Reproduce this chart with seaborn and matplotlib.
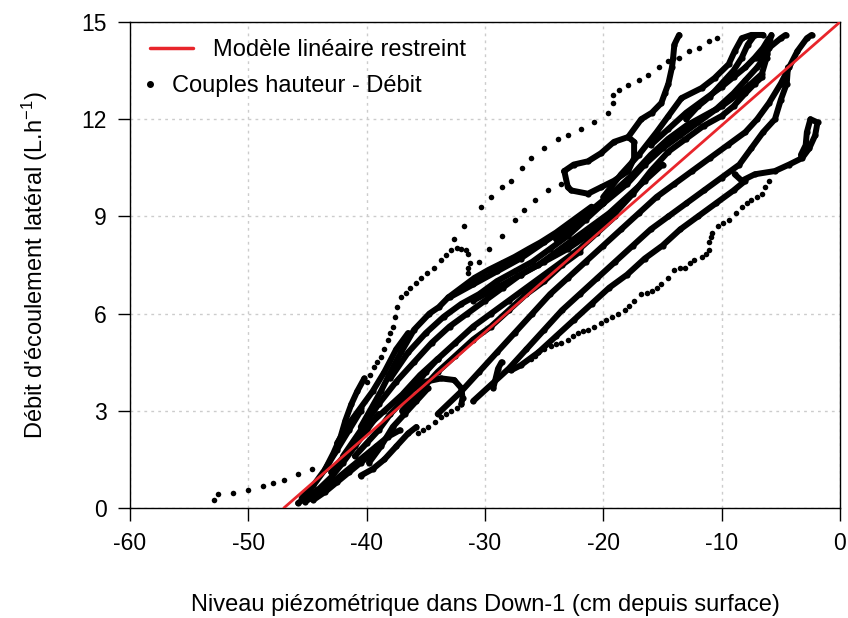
import matplotlib
matplotlib.use("Agg")
from matplotlib import pyplot as plt
from matplotlib.lines import Line2D
import seaborn as sns
import pandas as pd

# red fitted model (restricted linear)
model_x = [-47.0, 0.0]
model_y = [0.0, 15.0]

# sparse dotted traces (level cm, flow L/h)
tail_x = [-52.9, -52.6, -51.3, -50.0, -48.8, -47.9, -47.0, -45.8, -44.6, -43.2]
tail_y = [0.25, 0.42, 0.46, 0.55, 0.68, 0.78, 0.86, 1.05, 1.20, 1.42]

outer_x = [-32.6, -31.8, -30.3, -29.5, -28.6, -27.8, -26.9, -26.1, -25.0, -23.8, -23.0, -21.9,
           -20.8, -19.6, -19.2, -19.2, -18.7, -17.9, -17.0, -16.2, -15.3, -14.5, -13.6, -12.8,
           -11.9, -11.1, -10.4]
outer_y = [8.3, 8.7, 9.3, 9.6, 9.9, 10.1, 10.5, 10.8, 11.1, 11.4, 11.5, 11.7,
           11.9, 12.2, 12.5, 12.75, 12.9, 13.05, 13.2, 13.35, 13.6, 13.8, 13.9, 14.1,
           14.2, 14.4, 14.5]

hook_x = [-40.0, -39.7, -39.4, -39.1, -38.8, -38.5, -38.2, -38.0, -37.8, -37.6, -37.4, -37.1,
          -36.7, -36.3, -35.8, -35.4, -34.9, -34.3, -33.7, -33.3, -32.9, -32.4, -32.0, -31.6,
          -31.4, -31.3, -31.4, -31.4]
hook_y = [3.9, 4.1, 4.35, 4.5, 4.66, 4.9, 5.19, 5.4, 5.6, 5.9, 6.2, 6.5,
          6.65, 6.8, 6.95, 7.1, 7.25, 7.4, 7.65, 7.8, 7.96, 8.02, 8.0, 7.95,
          7.85, 7.56, 7.4, 7.25]

step_x = [-35.7, -35.2, -34.8, -34.2, -33.7, -33.3, -32.9, -32.4, -32.0]
step_y = [2.3, 2.4, 2.5, 2.65, 2.8, 2.9, 3.0, 3.1, 3.2]

mid_x = [-30.5, -29.7, -28.6, -27.5, -26.7, -25.8, -24.7, -23.6]
mid_y = [7.6, 8.0, 8.4, 8.9, 9.2, 9.5, 9.8, 10.0]

low_x = [-26.1, -25.8, -25.5, -25.0, -24.4, -24.0, -23.6, -23.0, -22.6, -22.1, -21.7, -21.3,
         -20.8, -20.2, -19.8, -19.3, -18.8, -18.2, -17.8, -17.4, -16.8, -16.3, -15.9, -15.5,
         -15.1, -14.5, -14.0, -13.5, -13.1, -12.7, -12.3, -11.7, -11.3, -11.1, -11.1, -10.9,
         -10.8, -10.3, -9.9, -9.4, -8.8, -8.3, -7.9, -7.5, -7.0, -6.6, -6.3, -6.0]
low_y = [4.6, 4.7, 4.8, 4.9, 5.0, 5.05, 5.1, 5.2, 5.3, 5.4, 5.45, 5.5,
         5.6, 5.7, 5.8, 5.9, 6.0, 6.1, 6.25, 6.4, 6.6, 6.65, 6.7, 6.8,
         6.9, 7.1, 7.35, 7.4, 7.4, 7.55, 7.65, 7.75, 7.85, 7.95, 8.2, 8.35,
         8.5, 8.7, 8.8, 8.9, 9.1, 9.3, 9.4, 9.5, 9.6, 9.7, 9.9, 10.1]

# dense traces
base1_x = [-45.8, -45.0, -44.0, -43.0, -42.0, -41.0, -40.0, -39.0]
base1_y = [0.15, 0.35, 0.6, 0.95, 1.4, 1.9, 2.4, 2.9]
base2_x = [-45.2, -44.2, -43.2, -42.2, -41.2, -40.2, -39.2, -38.2, -37.2]
base2_y = [0.2, 0.4, 0.7, 1.0, 1.3, 1.6, 1.9, 2.2, 2.4]
base3_x = [-43.5, -42.8, -42.2, -41.8, -41.3, -40.8, -40.2]
base3_y = [1.2, 1.7, 2.2, 2.7, 3.2, 3.6, 4.0]
base4_x = [-45.5, -44.5, -43.5, -42.5, -41.5, -40.5]
base4_y = [0.3, 0.7, 1.2, 1.8, 2.4, 3.0]
base5_x = [-44.5, -43.5, -42.5, -41.5, -40.5, -39.5]
base5_y = [0.25, 0.5, 0.8, 1.1, 1.4, 1.7]
mass1_x = [-42.5, -41.5, -40.5, -39.5, -38.5, -37.5, -36.5]
mass1_y = [2.0, 2.6, 3.1, 3.6, 4.2, 4.9, 5.4]
mass2_x = [-41.0, -40.0, -39.0, -38.0, -37.0, -36.0, -35.0, -34.0]
mass2_y = [1.6, 2.0, 2.4, 2.9, 3.3, 3.7, 4.2, 4.6]
fork1_x = [-40.5, -39.5, -38.5, -37.5, -36.5, -35.8]
fork1_y = [1.0, 1.2, 1.5, 1.9, 2.3, 2.5]
fork2_x = [-39.8, -38.8, -37.8, -36.8, -35.8, -34.8]
fork2_y = [1.4, 1.9, 2.5, 2.9, 3.3, 3.7]
bend_x = [-36.5, -35.0, -33.7, -32.6, -32.0, -31.9, -32.0]
bend_y = [3.6, 3.9, 4.0, 3.95, 3.7, 3.4, 3.2]
streak_x = [-29.3, -29.1, -28.9, -28.6]
streak_y = [3.7, 4.0, 4.3, 4.5]

edge_x = [-40.5, -38.8, -37.7, -37.1, -36.0, -34.7, -33.9, -33.1, -32.0, -30.9, -29.7, -28.6,
          -27.5, -26.3, -25.3, -24.0, -22.5, -21.0]
edge_y = [2.5, 3.6, 4.4, 4.8, 5.5, 6.0, 6.2, 6.5, 6.8, 7.1, 7.35, 7.55,
          7.75, 8.0, 8.2, 8.5, 8.9, 9.3]
mid1_x = [-38.0, -36.5, -35.0, -33.5, -32.0, -30.5, -29.0, -27.5, -26.0, -24.5, -23.0, -21.5, -20.0]
mid1_y = [4.0, 4.8, 5.4, 5.9, 6.3, 6.6, 7.0, 7.3, 7.6, 8.0, 8.4, 8.9, 9.4]
mid2_x = [-37.0, -35.5, -34.0, -32.5, -31.0, -29.5, -28.0, -26.5, -25.0, -23.5, -22.0]
mid2_y = [3.0, 3.6, 4.2, 4.7, 5.2, 5.6, 6.1, 6.6, 7.0, 7.5, 7.9]
up1_x = [-42.0, -40.5, -39.0, -37.5, -36.0, -34.5, -33.0, -31.5, -30.0, -28.5, -27.0, -25.5,
         -24.0, -22.5, -21.0, -19.5, -18.0, -16.5, -15.0]
up1_y = [1.6, 2.4, 3.2, 3.9, 4.5, 5.1, 5.6, 6.0, 6.4, 6.8, 7.2, 7.5,
         7.9, 8.3, 8.7, 9.1, 9.6, 10.1, 10.6]
up2_x = [-43.0, -41.5, -40.0, -38.5, -37.0, -35.5, -34.0, -32.5, -31.0, -29.5, -28.0, -26.5,
         -25.0, -23.5, -22.0, -20.5, -19.0]
up2_y = [1.1, 1.8, 2.5, 3.0, 3.5, 4.1, 4.6, 5.1, 5.6, 6.0, 6.4, 6.8,
         7.2, 7.6, 8.0, 8.5, 9.0]

top1_x = [-33.0, -31.0, -29.0, -27.0, -25.0, -23.0, -21.0, -19.0, -17.5, -16.0, -14.5, -13.0,
          -11.5, -10.0, -8.5, -7.5, -6.6, -6.2, -6.0, -5.8]
top1_y = [6.5, 6.9, 7.3, 7.7, 8.2, 8.7, 9.2, 9.8, 10.3, 10.9, 11.4, 11.8,
          12.1, 12.4, 12.8, 13.1, 13.4, 13.9, 14.3, 14.6]
top2_x = [-31.0, -29.0, -27.0, -25.0, -23.0, -21.0, -19.0, -17.5, -16.0, -14.5, -13.0, -11.5,
          -10.0, -9.0, -8.0, -7.2, -6.6]
top2_y = [6.4, 6.8, 7.2, 7.6, 8.0, 8.5, 9.1, 9.7, 10.4, 11.0, 11.4, 11.8,
          12.1, 12.4, 12.8, 13.1, 13.3]
top3_x = [-20.0, -18.5, -17.0, -15.5, -14.5, -13.4, -11.7, -10.6, -9.4, -8.9, -8.3, -7.5, -6.5]
top3_y = [9.6, 10.3, 10.9, 11.6, 12.1, 12.65, 12.96, 13.27, 13.7, 14.1, 14.5, 14.6, 14.6]
top4_x = [-7.0, -6.0, -5.0, -4.6]
top4_y = [13.9, 14.2, 14.5, 14.6]
top5_x = [-16.0, -14.5, -13.0, -11.5, -10.0, -9.0, -8.0, -7.2, -6.5, -6.0]
top5_y = [11.2, 11.7, 12.2, 12.6, 13.0, 13.3, 13.6, 13.9, 14.2, 14.5]
top6_x = [-24.0, -22.0, -20.0, -18.0, -16.5, -15.0, -13.5, -12.0, -10.5, -9.0, -8.0, -7.0, -6.2]
top6_y = [8.3, 8.9, 9.4, 10.0, 10.6, 11.1, 11.5, 11.9, 12.3, 12.8, 13.2, 13.6, 14.0]
top7_x = [-13.0, -12.0, -11.0, -10.0, -9.0, -8.3, -7.8, -7.2]
top7_y = [12.0, 12.4, 12.7, 13.1, 13.5, 13.9, 14.3, 14.6]

steep_x = [-23.3, -22.5, -21.3, -20.2, -19.1, -17.9, -16.8, -15.9, -15.1, -14.8, -14.5, -14.2,
           -14.1, -14.0, -13.6]
steep_y = [10.4, 10.6, 10.7, 10.95, 11.3, 11.45, 12.0, 12.2, 12.5, 12.8, 13.1, 13.6,
           13.9, 14.3, 14.6]
loop_x = [-23.3, -23.0, -22.7, -21.3, -20.2, -19.1, -17.9, -17.4, -17.4, -17.9]
loop_y = [10.4, 9.9, 9.8, 9.7, 9.9, 10.1, 10.4, 10.8, 11.3, 11.45]

right1_x = [-34.0, -32.0, -30.5, -29.0, -27.5, -26.0, -24.5, -23.0, -21.5, -20.0,
            -18.5, -17.0, -15.5, -14.0, -12.5, -11.0, -9.5, -8.0, -7.0, -6.0, -5.0, -4.3,
            -3.6, -2.8, -2.4]
right1_y = [2.9, 3.6, 4.2, 4.8, 5.4, 6.0, 6.6, 7.1, 7.6, 8.1,
            8.6, 9.1, 9.6, 10.0, 10.4, 10.8, 11.2, 11.6, 12.0, 12.5, 13.1, 13.6,
            14.1, 14.5, 14.6]
right2_x = [-31.0, -29.5, -28.0, -26.5, -25.0, -23.5, -22.0, -20.5, -19.0, -17.5,
            -16.0, -14.5, -13.0, -11.5, -10.0, -8.5, -7.5, -6.5, -5.5, -5.0, -4.5, -4.4]
right2_y = [3.3, 3.8, 4.3, 4.9, 5.5, 6.1, 6.6, 7.1, 7.6, 8.1,
            8.6, 9.0, 9.4, 9.8, 10.2, 10.6, 11.1, 11.6, 12.0, 12.6, 13.1, 13.6]
right3_x = [-27.8, -27.0, -25.5, -24.0, -22.5, -21.0, -19.5, -18.0, -16.5, -15.0,
            -13.5, -12.0, -10.5, -9.0, -8.0]
right3_y = [4.25, 4.4, 4.8, 5.3, 5.8, 6.3, 6.8, 7.2, 7.7, 8.1,
            8.6, 9.0, 9.4, 9.8, 10.1]
far_x = [-8.9, -8.3, -7.2, -5.5, -4.3, -3.2, -2.6, -2.1, -1.9, -2.5, -2.8, -2.9, -3.3]
far_y = [10.3, 10.1, 10.3, 10.4, 10.6, 10.8, 11.1, 11.5, 11.9, 12.0, 11.6, 11.2, 10.9]

sparse_traces = [(tail_x, tail_y), (outer_x, outer_y), (hook_x, hook_y), (step_x, step_y),
                 (mid_x, mid_y), (low_x, low_y)]
dense_traces = [(base1_x, base1_y), (base2_x, base2_y), (base3_x, base3_y), (base4_x, base4_y),
                (base5_x, base5_y), (mass1_x, mass1_y), (mass2_x, mass2_y), (fork1_x, fork1_y),
                (fork2_x, fork2_y), (bend_x, bend_y), (streak_x, streak_y), (edge_x, edge_y),
                (mid1_x, mid1_y), (mid2_x, mid2_y), (up1_x, up1_y), (up2_x, up2_y),
                (top1_x, top1_y), (top2_x, top2_y), (top3_x, top3_y), (top4_x, top4_y),
                (top5_x, top5_y), (top6_x, top6_y), (top7_x, top7_y), (steep_x, steep_y),
                (loop_x, loop_y), (right1_x, right1_y), (right2_x, right2_y),
                (right3_x, right3_y), (far_x, far_y)]


def to_frame(traces):
    parts = []
    for i, (xs, ys) in enumerate(traces):
        parts.append(pd.DataFrame({"niveau": xs, "debit": ys, "trace": i}))
    return pd.concat(parts, ignore_index=True)


sparse_df = to_frame(sparse_traces)
dense_df = to_frame(dense_traces)
model_df = pd.DataFrame({"niveau": model_x, "debit": model_y})

sns.set_theme(style="ticks")
plt.rcParams["font.family"] = ["Liberation Sans", "DejaVu Sans"]
plt.rcParams["axes.unicode_minus"] = False
plt.rcParams["mathtext.default"] = "regular"
plt.rcParams["text.color"] = "black"
plt.rcParams["axes.labelcolor"] = "black"

fig = plt.figure(figsize=(8.48, 6.18), dpi=100)
ax = fig.add_axes([130 / 848, 1 - 508 / 618, 710 / 848, 486 / 618])

sns.lineplot(data=dense_df, x="niveau", y="debit", units="trace", estimator=None, sort=False,
             color="black", linewidth=4.3, ax=ax, legend=False)
sns.scatterplot(data=dense_df, x="niveau", y="debit", color="black", s=20, linewidth=0, ax=ax)
sns.scatterplot(data=sparse_df, x="niveau", y="debit", color="black", s=16, linewidth=0, ax=ax)
sns.lineplot(data=model_df, x="niveau", y="debit", color="#e8252b", linewidth=2.0, ax=ax,
             zorder=5)

ax.set_xlim(-60, 0)
ax.set_ylim(0, 15)
ax.set_xticks([-60, -50, -40, -30, -20, -10, 0])
ax.set_yticks([0, 3, 6, 9, 12, 15])
ax.grid(True, color="#cccccc", linestyle=(0, (2, 3)), linewidth=1)
ax.tick_params(axis="both", direction="out", length=9, width=1, pad=8, labelsize=16.5,
               colors="black")
for s in ax.spines.values():
    s.set_color("black")
    s.set_linewidth(1)

ax.set_xlabel("Niveau piézométrique dans Down-1 (cm depuis surface)", fontsize=17, labelpad=28)
ax.set_ylabel("Débit d'écoulement latéral (L.h$^{-1}$)", fontsize=17, labelpad=22)

line_handle = Line2D([0], [0], color="#e8252b", lw=2.5)
dot_handle = Line2D([0], [0], marker="o", color="black", ls="none", markersize=4)
leg1 = ax.legend([line_handle], ["Modèle linéaire restreint"], loc="upper left",
                 bbox_to_anchor=(0.028, 0.964), frameon=False, fontsize=17, borderpad=0,
                 borderaxespad=0, handlelength=1.82, handletextpad=0.85)
ax.add_artist(leg1)
ax.legend([dot_handle], ["Couples hauteur - Débit"], loc="upper left",
          bbox_to_anchor=(0.0197, 0.891), frameon=False, fontsize=17, borderpad=0,
          borderaxespad=0, handlelength=0.5, handletextpad=0.68)

fig.savefig("out.png", dpi=100)
